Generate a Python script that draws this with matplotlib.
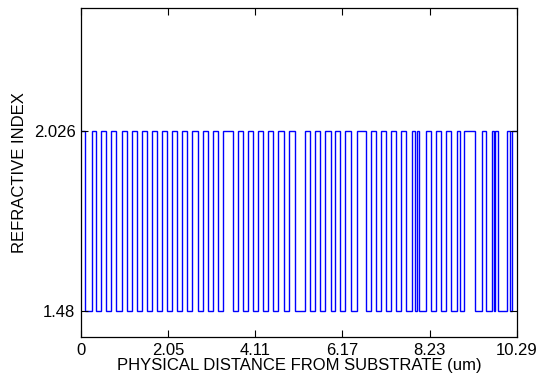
import numpy as np
import matplotlib
matplotlib.use("Agg")
import matplotlib.pyplot as plt

plt.rcParams['font.family'] = ['Liberation Sans', 'DejaVu Sans']

# Layer data (substrate -> air), H = 2.026, L = 1.48
n_high = 2.026
n_low = 1.48
layer_thickness_um = [
    0.105, 0.146, 0.097, 0.130, 0.114, 0.122, 0.122, 0.122, 0.122, 0.114,
    0.122, 0.122, 0.114, 0.122, 0.122, 0.122, 0.114, 0.122, 0.122, 0.114,
    0.122, 0.114, 0.130, 0.114, 0.122, 0.122, 0.122, 0.122, 0.227, 0.114,
    0.130, 0.114, 0.130, 0.114, 0.122, 0.114, 0.122, 0.114, 0.130, 0.114,
    0.146, 0.243, 0.122, 0.114, 0.122, 0.122, 0.122, 0.114, 0.114, 0.122,
    0.122, 0.146, 0.211, 0.122, 0.122, 0.114, 0.122, 0.114, 0.122, 0.114,
    0.130, 0.138, 0.073, 0.032, 0.065, 0.162, 0.122, 0.105, 0.122, 0.122,
    0.122, 0.138, 0.065, 0.097, 0.268, 0.162, 0.081, 0.146, 0.049, 0.024,
    0.081, 0.211, 0.065, 0.049, 0.122,
]
layer_material = ['H' if i % 2 == 0 else 'L' for i in range(len(layer_thickness_um))]
total_thickness = 10.29
x_tick_values = [0, 2.058, 4.116, 6.174, 8.232, 10.29]
x_tick_labels = ['0', '2.05', '4.11', '6.17', '8.23', '10.29']
y_tick_values = [1.48, 2.026]
y_tick_labels = ['1.48', '2.026']

index_values = np.array([n_high if m == 'H' else n_low for m in layer_material])
edges = np.concatenate([[0.0], np.cumsum(layer_thickness_um)])

fig = plt.figure(figsize=(5.4, 3.8), dpi=100)
ax = fig.add_axes([0.150, 0.112, 0.807, 0.867])

ax.stairs(index_values, edges, baseline=None, color='#0000ff', linewidth=1.0)

ax.set_xlim(0, total_thickness)
ax.set_ylim(1.4, 2.4)
ax.set_xticks(x_tick_values)
ax.set_xticklabels(x_tick_labels)
ax.set_yticks(y_tick_values)
ax.set_yticklabels(y_tick_labels)
ax.tick_params(direction='in', top=True, right=True, length=5, width=0.8,
               labelsize=12, colors='black', pad=4)
for s in ax.spines.values():
    s.set_linewidth(0.9)
ax.set_xlabel('PHYSICAL DISTANCE FROM SUBSTRATE (um)', fontsize=12, labelpad=0)
ax.set_ylabel('REFRACTIVE INDEX', fontsize=12, labelpad=5)

fig.savefig('out.png', dpi=100)
